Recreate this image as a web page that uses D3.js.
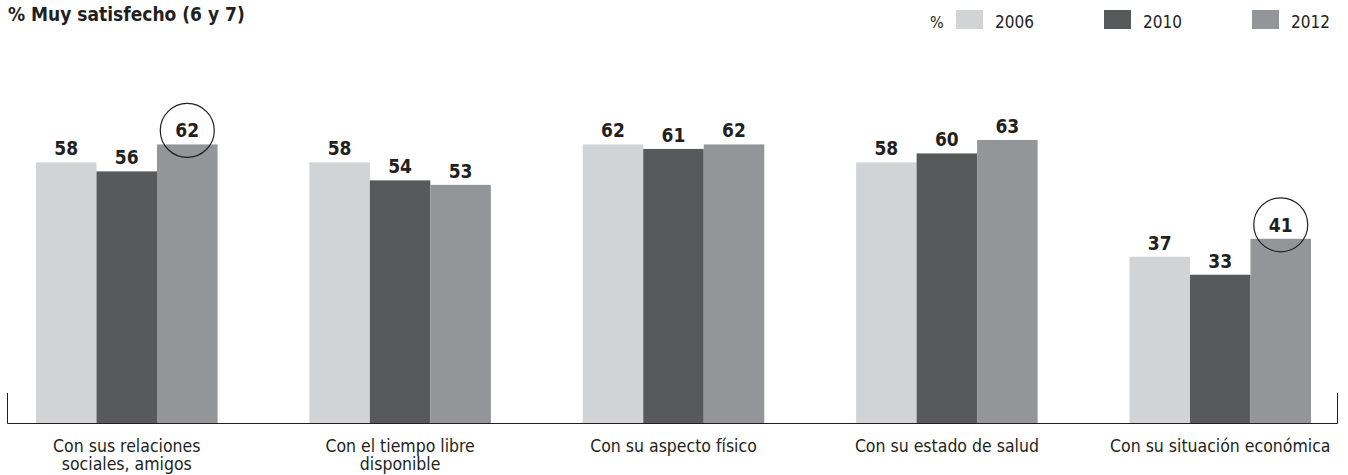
<!DOCTYPE html>
<html>
<head>
<meta charset="utf-8">
<script src="https://cdn.jsdelivr.net/npm/d3@7"></script>
<style>
  html, body { margin: 0; padding: 0; background: #fff; }
  svg { display: block; font-family: "Liberation Sans Narrow", "DejaVu Sans Condensed", "Roboto", sans-serif; }
</style>
</head>
<body>
<svg id="chart" width="1348" height="475"></svg>
<script>
const categories = [
  ["Con sus relaciones", "sociales, amigos"],
  ["Con el tiempo libre", "disponible"],
  ["Con su aspecto físico"],
  ["Con su estado de salud"],
  ["Con su situación económica"]
];
const seriesNames = ["2006", "2010", "2012"];
const values2006 = [58, 58, 62, 58, 37];
const values2010 = [56, 54, 61, 60, 33];
const values2012 = [62, 53, 62, 63, 41];
const circled2012 = [true, false, false, false, true];
const colors = ["#d1d3d4", "#58595b", "#939598"];
const title = "% Muy satisfecho (6 y 7)";

const svg = d3.select("#chart");
const baseY = 423;

const x0 = d3.scaleBand().domain(d3.range(categories.length)).range([36, 1311]).paddingInner(0.336).paddingOuter(0);
const x1 = d3.scaleBand().domain(seriesNames).range([0, x0.bandwidth()]).padding(0);
const y = d3.scaleLinear().domain([0, 58]).range([baseY, 162.4]);

const seriesValues = [values2006, values2010, values2012];

// title
svg.append("text").attr("x", 8).attr("y", 21)
  .attr("font-size", 19).attr("font-weight", "bold").attr("fill", "#231f20")
  .text(title);

// legend
svg.append("text").attr("x", 930).attr("y", 28).attr("font-size", 16).attr("fill", "#231f20").text("%");
const legX = [956, 1104, 1252];
seriesNames.forEach((s, i) => {
  svg.append("rect").attr("x", legX[i]).attr("y", 10).attr("width", 27).attr("height", 19).attr("fill", colors[i]);
  svg.append("text").attr("x", legX[i] + 39).attr("y", 28).attr("font-size", 17).attr("fill", "#231f20").text(s);
});

// bars
const groups = svg.selectAll("g.grp").data(categories).join("g")
  .attr("class", "grp").attr("transform", (d, i) => `translate(${x0(i)},0)`);

groups.each(function(cat, ci) {
  const g = d3.select(this);
  seriesNames.forEach((s, si) => {
    const v = seriesValues[si][ci];
    g.append("rect").attr("x", x1(s)).attr("y", y(v))
      .attr("width", x1.bandwidth()).attr("height", baseY - y(v)).attr("fill", colors[si]);
  });
  seriesNames.forEach((s, si) => {
    const v = seriesValues[si][ci];
    const cx = x1(s) + x1.bandwidth() / 2;
    if (si === 2 && circled2012[ci]) {
      g.append("circle").attr("cx", cx).attr("cy", y(v) - 14).attr("r", 27)
        .attr("fill", "none").attr("stroke", "#231f20").attr("stroke-width", 1.2);
    }
    g.append("text").attr("x", cx).attr("y", y(v) - 7)
      .attr("text-anchor", "middle").attr("font-size", 19).attr("font-weight", "bold").attr("fill", "#231f20")
      .text(v);
  });
  // category label
  const t = g.append("text").attr("text-anchor", "middle").attr("font-size", 17.5).attr("fill", "#231f20");
  cat.forEach((line, li) => {
    t.append("tspan").attr("x", x0.bandwidth() / 2).attr("y", 452 + li * 18).text(line);
  });
});

// baseline frame
svg.append("path")
  .attr("d", `M7.5,393 V${baseY + 0.5} H1337.5 V393`)
  .attr("fill", "none").attr("stroke", "#231f20").attr("stroke-width", 1);
</script>
</body>
</html>
